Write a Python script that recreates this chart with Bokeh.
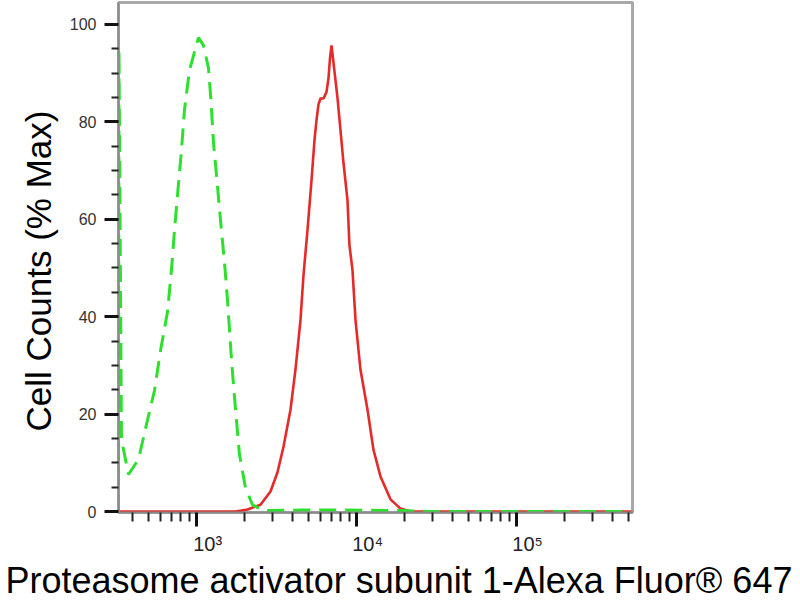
from bokeh.plotting import figure
from bokeh.models import FixedTicker, Range1d, Title
from bokeh.embed import file_html
from bokeh.resources import INLINE

# ---- data ----
# Control (green dashed): fluorescence intensity vs % max
ctrl_x = [325.6, 327.9, 339.8, 375.8, 434, 480, 546, 596, 659, 698, 729, 766, 805, 841, 904,
          1029, 1106, 1189, 1232, 1277, 1343, 1413, 1496, 1563, 1656, 1754, 1857, 2024,
          2239, 2585, 4467, 7943, 18836, 29000, 531000]
ctrl_y = [0, 94.7, 14.8, 7.6, 10.7, 17.0, 24.8, 33.0, 41.0, 49.6, 57.8, 66.0, 74.0, 82.4, 90.6,
          97.3, 95.7, 91.0, 84.4, 75.8, 68.0, 59.8, 51.2, 43.4, 31.1, 20.9, 11.7, 4.9,
          1.4, 0.2, 0.3, 0.3, 0.2, 0, 0]

# Sample (red solid)
samp_x = [325.6, 1754, 2084, 2512, 2901, 3206, 3499, 3869, 4155, 4467, 4667, 4943, 5236, 5464,
          5623, 5788, 5957, 6223, 6494, 6683, 6828, 6982, 7180, 7604, 7943, 8298, 8790, 9036,
          9441, 9863, 10593, 11722, 12763, 14125, 16313, 18836, 21752, 531000]
samp_y = [0, 0, 0.4, 1.4, 4.1, 8.0, 13.3, 20.9, 29.1, 39.3, 48.6, 57.8, 68.0, 76.2,
          80.3, 83.6, 84.8, 84.8, 86.1, 88.9, 93.0, 95.7, 92.2, 85.0, 78.3, 71.5, 63.9, 54.7,
          49.6, 39.3, 29.1, 20.9, 12.7, 7.2, 2.5, 0.6, 0, 0]

x_major = [1e3, 1e4, 1e5]
x_major_labels = ["\u2007\u200710\u00b3", "\u2007\u200710\u2074", "\u2007\u200710\u2075"]
x_minor = [400, 500, 600, 700, 800, 900,
           2000, 3000, 4000, 5000, 6000, 7000, 8000, 9000,
           20000, 30000, 40000, 50000, 60000, 70000, 80000, 90000,
           200000, 300000, 400000, 500000]
y_major = [0, 20, 40, 60, 80, 100]
y_minor = [5, 10, 15, 25, 30, 35, 45, 50, 55, 65, 70, 75, 85, 90, 95]

x_label = "Proteasome activator subunit 1-Alexa Fluor\u00ae 647"
y_label = "Cell Counts (% Max)"

FONT = "Liberation Sans"

p = figure(width=798, height=600, x_axis_type="log",
           x_range=Range1d(325.6, 531000), y_range=Range1d(-0.2, 104.5),
           output_backend="svg", toolbar_location=None,
           min_border_left=118, min_border_right=166, min_border_top=2, min_border_bottom=87)
p.xgrid.visible = False
p.ygrid.visible = False
p.outline_line_color = "#a8a8a8"
p.outline_line_width = 3
p.background_fill_color = "white"
p.border_fill_color = "white"

p.line(samp_x, samp_y, line_color="#e52a2a", line_width=2.6)
p.line(ctrl_x, ctrl_y, line_color="#2ee02e", line_width=3, line_dash="17 9")

# axes
xa = p.xaxis[0]
xa.ticker = FixedTicker(ticks=x_major, minor_ticks=x_minor)
xa.major_label_overrides = {t: l for t, l in zip(x_major, x_major_labels)}
xa.axis_line_color = "#8a8a8a"
xa.axis_line_width = 2
xa.major_tick_line_color = "#111111"
xa.major_tick_line_width = 3
xa.major_tick_out = 14
xa.major_tick_in = 0
xa.minor_tick_line_color = "#222222"
xa.minor_tick_line_width = 2
xa.minor_tick_out = 9
xa.minor_tick_in = 0
xa.major_label_text_font = FONT
xa.major_label_text_font_size = "20px"
xa.major_label_text_color = "#222222"
xa.major_label_standoff = 6

ya = p.yaxis[0]
ya.ticker = FixedTicker(ticks=y_major, minor_ticks=y_minor)
ya.axis_line_color = "#8a8a8a"
ya.axis_line_width = 2
ya.major_tick_line_color = "#111111"
ya.major_tick_line_width = 3
ya.major_tick_out = 14
ya.major_tick_in = 0
ya.minor_tick_line_color = "#222222"
ya.minor_tick_line_width = 2
ya.minor_tick_out = 7
ya.minor_tick_in = 0
ya.major_label_text_font = FONT
ya.major_label_text_font_size = "16px"
ya.major_label_text_color = "#333333"
ya.major_label_standoff = 8

# axis titles as side-panel titles
p.add_layout(Title(text=y_label, align="left", offset=81, vertical_align="bottom",
                   standoff=18, text_font=FONT, text_font_size="35px",
                   text_font_style="normal", text_color="black"), "left")
p.add_layout(Title(text=x_label, align="left", offset=-113, vertical_align="bottom",
                   standoff=0, text_font=FONT, text_font_size="36px",
                   text_font_style="normal", text_color="black"), "below")

open("out.html", "w").write(file_html(p, INLINE))
